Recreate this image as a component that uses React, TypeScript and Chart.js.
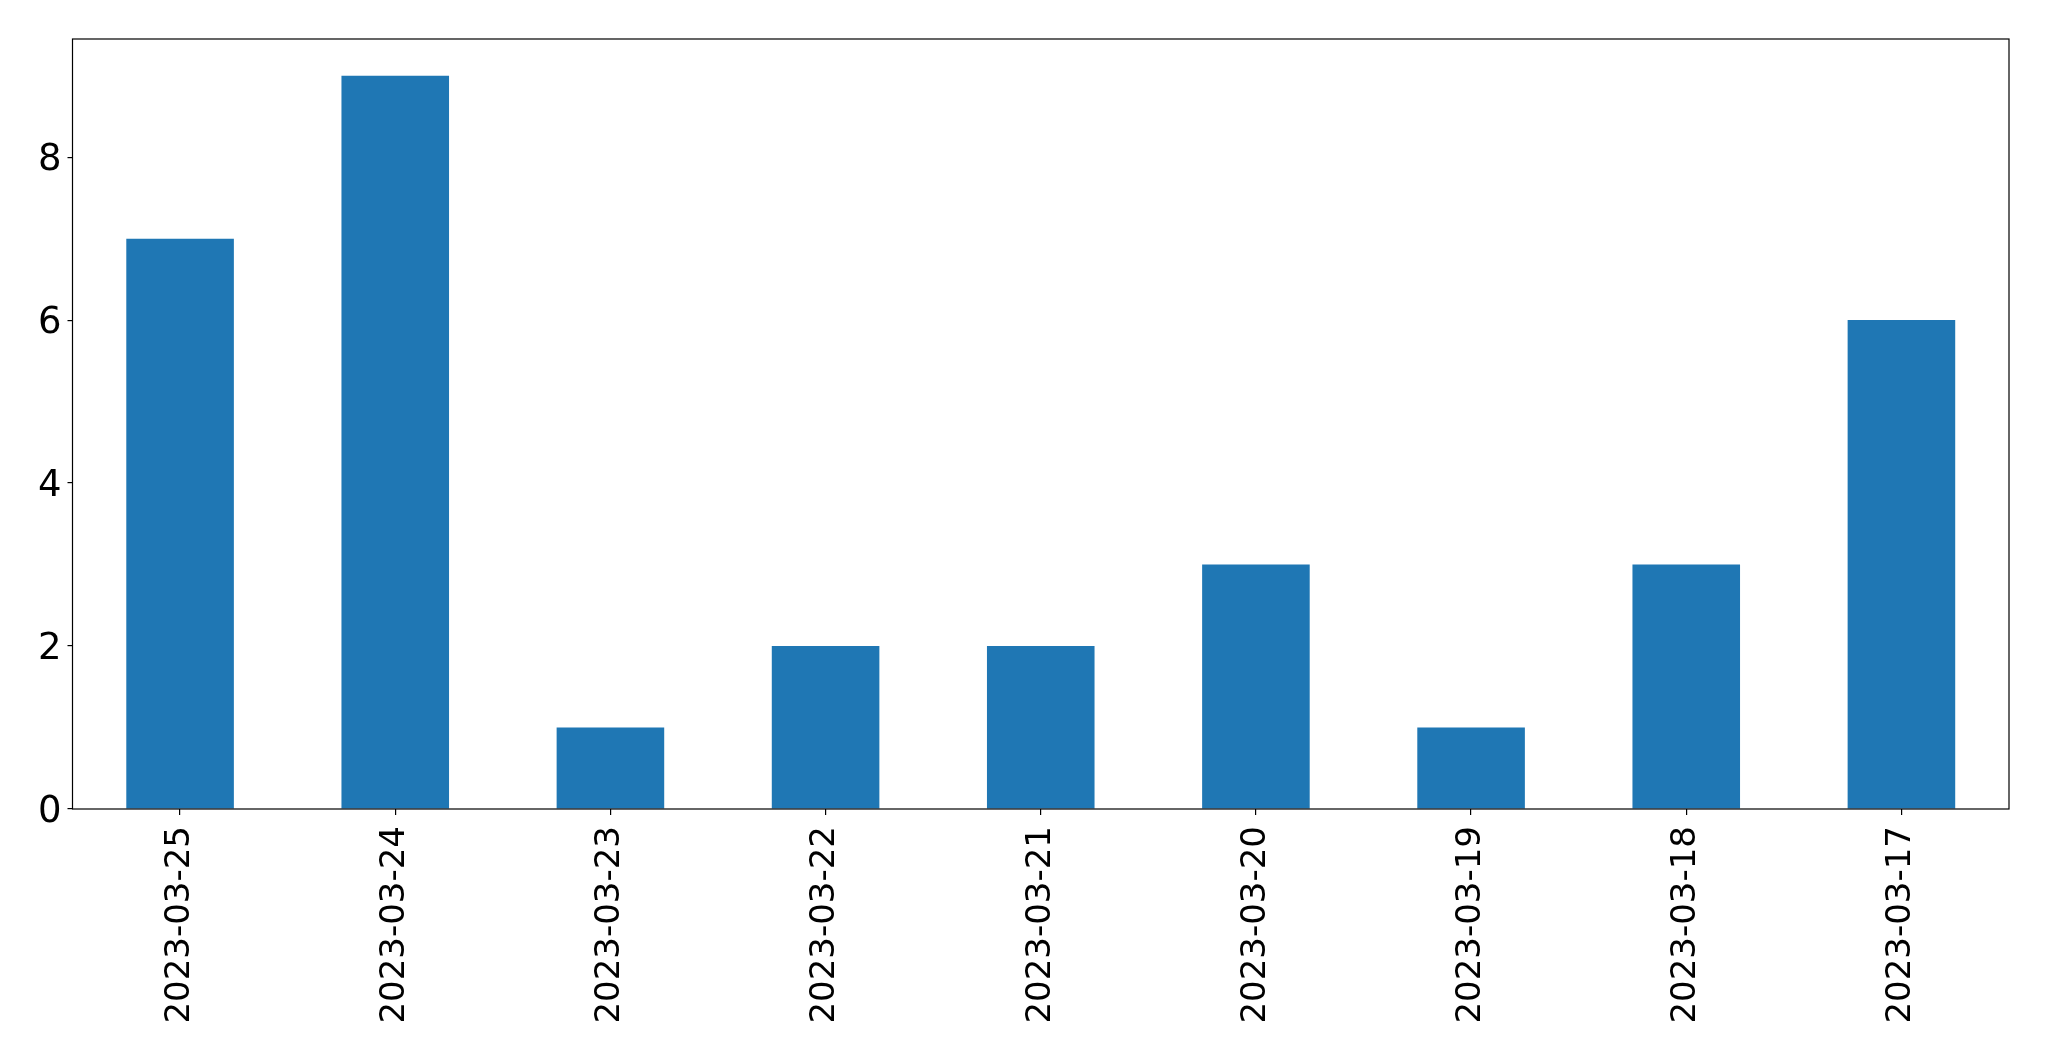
import React, { useEffect, useRef } from "react";
import { Chart, registerables } from "chart.js";

Chart.register(...registerables);

const categories = [
  "2023-03-25",
  "2023-03-24",
  "2023-03-23",
  "2023-03-22",
  "2023-03-21",
  "2023-03-20",
  "2023-03-19",
  "2023-03-18",
  "2023-03-17",
];
const counts = [7, 9, 1, 2, 2, 3, 1, 3, 6];
const yMax = 9.45;
const yStep = 2;

const framePlugin = {
  id: "frame",
  afterDraw(chart: any) {
    const { ctx, chartArea } = chart;
    ctx.save();
    ctx.strokeStyle = "#000";
    ctx.lineWidth = 1.2;
    ctx.strokeRect(chartArea.left, chartArea.top, chartArea.right - chartArea.left, chartArea.bottom - chartArea.top);
    ctx.restore();
  },
};

export default function App() {
  const ref = useRef<HTMLCanvasElement | null>(null);
  useEffect(() => {
    const xFont = { family: "'DejaVu Sans', sans-serif", size: 34 };
    const yFont = { family: "'DejaVu Sans', sans-serif", size: 37 };
    const chart = new Chart(ref.current!, {
      type: "bar",
      data: {
        labels: categories,
        datasets: [
          {
            data: counts,
            backgroundColor: "#1f77b4",
            categoryPercentage: 1,
            barPercentage: 0.5,
          },
        ],
      },
      options: {
        animation: false,
        responsive: false,
        maintainAspectRatio: false,
        layout: { padding: { top: 39, right: 40, left: 0, bottom: 0 } },
        plugins: { legend: { display: false }, tooltip: { enabled: false } },
        scales: {
          x: {
            offset: true,
            grid: { offset: false, drawOnChartArea: false, drawTicks: true, tickLength: 6, color: "#000", lineWidth: 1.2 },
            border: { display: false },
            ticks: { color: "#000", font: xFont, maxRotation: 90, minRotation: 90, padding: 11, autoSkip: false },
            afterFit(scale: any) {
              scale.height = 252;
            },
          },
          y: {
            min: 0,
            max: yMax,
            grid: { drawOnChartArea: false, drawTicks: true, tickLength: 5, color: "#000", lineWidth: 1.2 },
            border: { display: false },
            ticks: { color: "#000", font: yFont, stepSize: yStep, includeBounds: false, padding: 6, labelOffset: 3 },
            afterFit(scale: any) {
              scale.width = 72.5;
            },
          },
        },
      },
      plugins: [framePlugin],
    });
    return () => chart.destroy();
  }, []);
  return (
    <div style={{ position: "fixed", left: 0, top: 0, width: 2049, height: 1061, background: "#fff" }}>
      <canvas ref={ref} width={2049} height={1061} style={{ width: 2049, height: 1061 }} />
    </div>
  );
}
